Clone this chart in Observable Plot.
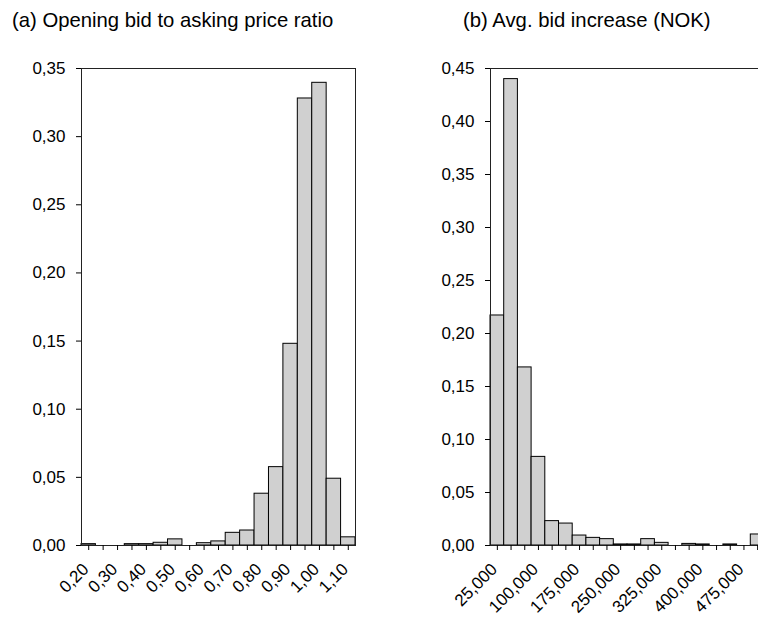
<!DOCTYPE html>
<html><head><meta charset="utf-8">
<script src="https://cdn.jsdelivr.net/npm/d3@7"></script>
<script src="https://cdn.jsdelivr.net/npm/@observablehq/plot@0.6"></script>
<style>
html,body{margin:0;padding:0;background:#fff;overflow:hidden;width:758px;height:617px}
#wrap{position:relative;width:758px;height:617px;overflow:hidden;font-family:"Liberation Sans",Arial,sans-serif}
.title{position:absolute;top:9px;font-size:20.3px;line-height:23px;color:#000;white-space:nowrap;z-index:5}
.panel{position:absolute;top:0}
.panel svg{max-width:none !important;display:block}
</style></head><body>
<div id="wrap">
<div class="title" id="ta" style="left:12px"></div>
<div class="title" id="tb" style="left:463px"></div>
<div class="panel" id="pa" style="left:0px"></div>
<div class="panel" id="pb" style="left:380px"></div>
</div>
<script>
const titleA = "(a) Opening bid to asking price ratio";
const titleB = "(b) Avg. bid increase (NOK)";

// Panel (a): opening bid / asking price ratio
const ratioBins = [0.20,0.25,0.30,0.35,0.40,0.45,0.50,0.55,0.60,0.65,0.70,0.75,0.80,0.85,0.90,0.95,1.00,1.05,1.10];
const ratioShares = [0.001,0,0,0.001,0.001,0.002,0.0045,0,0.0017,0.003,0.0093,0.011,0.038,0.0575,0.148,0.328,0.3395,0.049,0.006];
const ratioLabelTicks = [0.20,0.30,0.40,0.50,0.60,0.70,0.80,0.90,1.00,1.10];
const ratioYTicks = [0,0.05,0.10,0.15,0.20,0.25,0.30,0.35];

// Panel (b): average bid increase (NOK)
const bidBins = [25000,50000,75000,100000,125000,150000,175000,200000,225000,250000,275000,300000,325000,350000,375000,400000,425000,450000,475000,500000];
const bidShares = [0.217,0.440,0.168,0.0836,0.023,0.0207,0.0094,0.0072,0.006,0.001,0.001,0.006,0.0025,0,0.0015,0.001,0,0.001,0,0.0104];
const bidLabelTicks = [25000,100000,175000,250000,325000,400000,475000];
const bidYTicks = [0,0.05,0.10,0.15,0.20,0.25,0.30,0.35,0.40,0.45];

document.getElementById("ta").textContent = titleA;
document.getElementById("tb").textContent = titleB;

const fmtDec = d => d3.format(".2f")(d).replace(".", ",");
const fmtThou = d3.format(",");

function panel({bins, shares, labelTicks, yTicks, yMax, width, marginLeft, marginRight, xFmt}) {
  const rows = bins.map((b, i) => ({bin: b, share: shares[i]}));
  return Plot.plot({
    width, height: 617, marginTop: 68, marginBottom: 72, marginLeft, marginRight,
    style: {fontFamily: "'Liberation Sans', Arial, sans-serif", fontSize: "17px", background: "transparent", color: "black", overflow: "visible"},
    x: {type: "band", domain: bins, padding: 0, round: false},
    y: {domain: [0, yMax]},
    marks: [
      Plot.barY(rows, {x: "bin", y: "share", fill: "#d0d0d0", stroke: "black", strokeWidth: 1}),
      Plot.frame({stroke: "#222"}),
      Plot.axisY(yTicks, {tickSize: 5, tickPadding: 11, tickFormat: fmtDec, label: null, fontSize: 17}),
      Plot.axisX(bins, {tickSize: 5, tickFormat: () => "", label: null}),
      Plot.axisX(labelTicks, {tickSize: 0, tickPadding: 21, dx: -3, tickRotate: -45, tickFormat: xFmt, label: null, fontSize: 17})
    ]
  });
}

document.getElementById("pa").append(panel({
  bins: ratioBins, shares: ratioShares, labelTicks: ratioLabelTicks, yTicks: ratioYTicks,
  yMax: 0.35, width: 380, marginLeft: 81, marginRight: 25, xFmt: fmtDec
}));
document.getElementById("pb").append(panel({
  bins: bidBins, shares: bidShares, labelTicks: bidLabelTicks, yTicks: bidYTicks,
  yMax: 0.45, width: 400, marginLeft: 110, marginRight: 16, xFmt: fmtThou
}));
</script>
</body></html>
